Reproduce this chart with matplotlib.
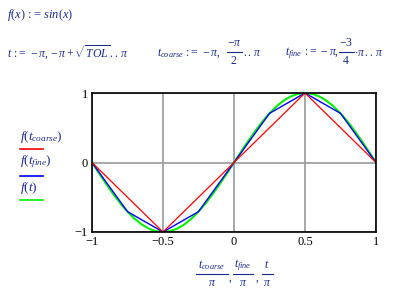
import matplotlib
matplotlib.use("Agg")
import matplotlib.pyplot as plt
from matplotlib.lines import Line2D

plt.rcParams['mathtext.fontset'] = 'custom'
plt.rcParams['mathtext.it'] = 'Liberation Serif:italic'
plt.rcParams['mathtext.rm'] = 'Liberation Serif'
plt.rcParams['mathtext.bf'] = 'Liberation Serif:bold'
plt.rcParams['font.family'] = ['Liberation Serif', 'DejaVu Serif']

# Data (x in units of pi)
coarse_x = [-1, -0.5, 0, 0.5, 1]
coarse_y = [0, -1, 0, 1, 0]
fine_x = [-1, -0.75, -0.5, -0.25, 0, 0.25, 0.5, 0.75, 1]
fine_y = [0, -0.707, -1, -0.707, 0, 0.707, 1, 0.707, 0]
t_x = [-1, -0.95, -0.9, -0.85, -0.8, -0.75, -0.7, -0.65, -0.6, -0.55, -0.5,
       -0.45, -0.4, -0.35, -0.3, -0.25, -0.2, -0.15, -0.1, -0.05, 0,
       0.05, 0.1, 0.15, 0.2, 0.25, 0.3, 0.35, 0.4, 0.45, 0.5,
       0.55, 0.6, 0.65, 0.7, 0.75, 0.8, 0.85, 0.9, 0.95, 1]
t_y = [0, -0.156, -0.309, -0.454, -0.588, -0.707, -0.809, -0.891, -0.951, -0.988, -1,
       -0.988, -0.951, -0.891, -0.809, -0.707, -0.588, -0.454, -0.309, -0.156, 0,
       0.156, 0.309, 0.454, 0.588, 0.707, 0.809, 0.891, 0.951, 0.988, 1,
       0.988, 0.951, 0.891, 0.809, 0.707, 0.588, 0.454, 0.309, 0.156, 0]
xticks = [-1, -0.5, 0, 0.5, 1]
xticklabels = ['\u22121', '\u22120.5', '0', '0.5', '1']
yticks = [-1, 0, 1]
yticklabels = ['\u22121', '0', '1']

W, H = 400, 295
fig = plt.figure(figsize=(W / 100, H / 100), dpi=100)
fig.patch.set_facecolor('white')

def P(x, y):
    return x / W, 1 - y / H

ax = fig.add_axes([92 / W, 1 - 232 / H, (376 - 92) / W, (232 - 93) / H])
ax.set_xlim(-1, 1)
ax.set_ylim(-1, 1)
ax.set_xticks(xticks)
ax.set_xticklabels(xticklabels)
ax.set_yticks(yticks)
ax.set_yticklabels(yticklabels)
ax.tick_params(length=0, labelsize=9, pad=3, colors='black')
ax.grid(True, color='#a0a0a0', linewidth=1.3)
ax.set_axisbelow(True)
for s in ax.spines.values():
    s.set_color('black')
    s.set_linewidth(1.2)
    s.set_zorder(5)

ax.plot(t_x, t_y, color='#00ee00', linewidth=1.5, zorder=3)
ax.plot(fine_x, fine_y, color='#0000ff', linewidth=1.0, zorder=3)
ax.plot(coarse_x, coarse_y, color='#ff0000', linewidth=0.9, zorder=4)

tc = '#1c2a8c'
fs = 9
es = 8.5
eq = r'\!:\!=\,'

def txt(x, y, s, size=8, ha='left'):
    fig.text(*P(x, y), s, color=tc, fontsize=size, va='center', ha=ha)

def hline(x0, x1, y, color=tc, lw=0.8):
    a, b = P(x0, y)
    c, _ = P(x1, y)
    fig.add_artist(Line2D([a, c], [b, b], color=color, linewidth=lw, transform=fig.transFigure))

def frac(xc, ybar, num, den, half, size=8, dy=8):
    txt(xc, ybar - dy, num, size, 'center')
    txt(xc, ybar + dy, den, size, 'center')
    hline(xc - half, xc + half, ybar)

txt(7, 15, r'$f(x)\ ' + eq + r' sin(x)$', fs)
txt(7, 53, r'$t\ ' + eq + r' -\pi, -\pi + \sqrt{TOL}\,..\,\pi$', es)

txt(157, 53, r'$t_{coarse}\ ' + eq + r' -\pi,$', es)
frac(234, 52, r'$-\pi$', r'$2$', 7.5, 8.5, 9.5)
txt(243, 53, r'$..\,\pi$', es)

txt(285, 53, r'$t_{fine}\ ' + eq + r' -\pi,$', es)
frac(346, 52, r'$-3$', r'$4$', 7.5, 8.5, 9.5)
txt(354, 53, r'$\cdot\pi\,..\,\pi$', es)

# legend labels at left
txt(20, 137, r'$f(t_{coarse})$', fs + 0.5)
txt(20, 162, r'$f(t_{fine})$', fs + 0.5)
txt(20, 188, r'$f(t)$', fs + 0.5)
for yy, c in [(149, '#ff0000'), (176, '#0000ff'), (200, '#00ee00')]:
    hline(20, 43, yy, c, 1.2)

# x-axis label built from fractions
frac(212, 274, r'$t_{coarse}$', r'$\pi$', 16, 8.5, 8.5)
txt(230, 278, ',', 8.5, 'center')
frac(243, 274, r'$t_{fine}$', r'$\pi$', 10, 8.5, 8.5)
txt(257, 278, ',', 8.5, 'center')
frac(267, 274, r'$t$', r'$\pi$', 5.5, 8.5, 8.5)

fig.savefig('out.png', dpi=100)
